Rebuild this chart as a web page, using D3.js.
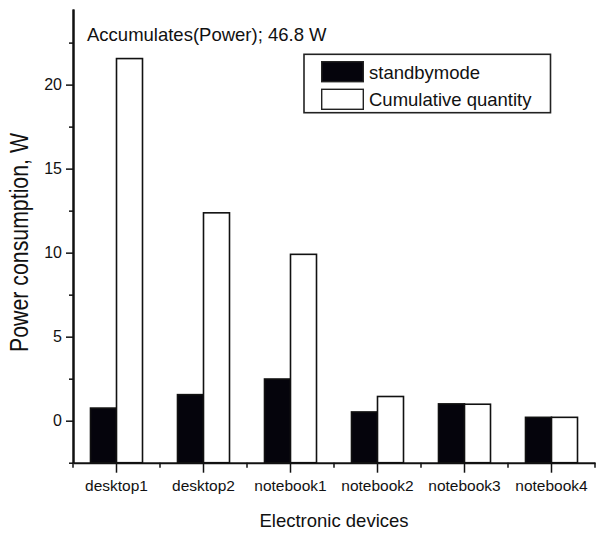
<!DOCTYPE html>
<html>
<head>
<meta charset="utf-8">
<script src="https://cdnjs.cloudflare.com/ajax/libs/d3/7.8.5/d3.min.js"></script>
<style>
  body { margin: 0; background: #fff; }
  svg { display: block; }
  text { font-family: "Liberation Sans", Arial, sans-serif; fill: #111; }
</style>
</head>
<body>
<div id="chart"></div>
<script>
// data
var categories = ["desktop1", "desktop2", "notebook1", "notebook2", "notebook3", "notebook4"];
var seriesNames = ["standbymode", "Cumulative quantity"];
var standby = [0.75, 1.55, 2.48, 0.52, 1.0, 0.2];
var cumulative = [21.55, 12.37, 9.9, 1.44, 0.98, 0.2];
var yMajorTicks = [0, 5, 10, 15, 20];
var yMinorTicks = [-2.5, 2.5, 7.5, 12.5, 17.5, 22.5];
var titleText = "Accumulates(Power); 46.8 W";

;(function(){
  var W = 598, H = 533;
  var plotLeft = 73, plotRight = 595, plotTop = 9, plotBottom = 462.7;

  var svg = d3.select("#chart").append("svg")
    .attr("width", W).attr("height", H);

  var x0 = d3.scaleBand().domain(categories).range([plotLeft, plotRight]).padding(0);
  var x1 = d3.scaleBand().domain(seriesNames).range([0, x0.bandwidth()])
    .paddingInner(0).paddingOuter(0.673);
  var y = d3.scaleLinear().domain([-2.5, 24.5]).range([plotBottom, plotTop]);

  var rows = categories.map(function(c, i){
    return {cat: c, vals: [
      {name: seriesNames[0], v: standby[i]},
      {name: seriesNames[1], v: cumulative[i]}
    ]};
  });
  var fillOf = {"standbymode": "#05040c", "Cumulative quantity": "#fff"};

  // bars, drawn up from the bottom of the axis like the original
  var g = svg.append("g").selectAll("g").data(rows).enter().append("g")
    .attr("transform", function(d){ return "translate(" + x0(d.cat) + ",0)"; });
  g.selectAll("rect").data(function(d){ return d.vals; }).enter().append("rect")
    .attr("x", function(d){ return x1(d.name); })
    .attr("width", x1.bandwidth())
    .attr("y", function(d){ return y(d.v); })
    .attr("height", function(d){ return y.range()[0] - y(d.v); })
    .attr("fill", function(d){ return fillOf[d.name]; })
    .attr("stroke", "#111")
    .attr("stroke-width", 1.6);

  // y axis
  var yAxis = svg.append("g").attr("transform", "translate(" + plotLeft + ",0)")
    .call(d3.axisLeft(y).tickValues(yMajorTicks).tickSize(7).tickSizeOuter(0).tickPadding(4));
  svg.append("g").attr("transform", "translate(" + plotLeft + ",0)")
    .call(d3.axisLeft(y).tickValues(yMinorTicks).tickSize(4).tickSizeOuter(0).tickFormat(""));

  // x axis
  var xAxis = svg.append("g").attr("transform", "translate(0," + plotBottom + ")")
    .call(d3.axisBottom(x0).tickSize(10).tickSizeOuter(0).tickPadding(7));
  var bounds = categories.map(function(c){ return x0(c); }).concat([x0.range()[1]]);
  svg.append("g").selectAll("line").data(bounds).enter().append("line")
    .attr("x1", function(d){ return d; }).attr("x2", function(d){ return d; })
    .attr("y1", plotBottom).attr("y2", plotBottom + 5)
    .attr("stroke", "#111").attr("stroke-width", 1.5);

  svg.selectAll(".domain").attr("stroke", "#111").attr("stroke-width", 2);
  svg.selectAll(".tick line").attr("stroke", "#111").attr("stroke-width", 1.5);
  yAxis.selectAll(".tick text").style("font-size", "16px").attr("fill", "#111")
    .style("font-family", "'Liberation Sans', Arial, sans-serif");
  xAxis.selectAll(".tick text").style("font-size", "15.5px").attr("fill", "#111")
    .style("font-family", "'Liberation Sans', Arial, sans-serif");

  // axis titles
  svg.append("text")
    .attr("x", (plotLeft + plotRight) / 2).attr("y", 527)
    .attr("text-anchor", "middle").style("font-size", "18.5px")
    .text("Electronic devices");
  svg.append("text")
    .attr("transform", "translate(27.5,242.5) rotate(-90)")
    .attr("text-anchor", "middle").style("font-size", "26px")
    .attr("textLength", 219).attr("lengthAdjust", "spacingAndGlyphs")
    .text("Power consumption, W");

  // annotation
  svg.append("text").attr("x", 87).attr("y", 41)
    .style("font-size", "18.5px").text(titleText);

  // legend
  var legend = svg.append("g").attr("transform", "translate(304,54.3)");
  legend.append("rect").attr("width", 246.5).attr("height", 58.4)
    .attr("fill", "#fff").attr("stroke", "#222").attr("stroke-width", 1.6);
  var li = legend.selectAll("g.item").data(seriesNames).enter().append("g")
    .attr("class", "item")
    .attr("transform", function(d, i){ return "translate(0," + (i * 27.6) + ")"; });
  li.append("rect").attr("x", 17.7).attr("y", 7.4).attr("width", 41.6).attr("height", 20)
    .attr("fill", function(d){ return fillOf[d]; })
    .attr("stroke", "#222").attr("stroke-width", 1.4);
  li.append("text").attr("x", 65).attr("y", 24.6)
    .style("font-size", "18.5px").text(function(d){ return d; });
})();
</script>
</body>
</html>
